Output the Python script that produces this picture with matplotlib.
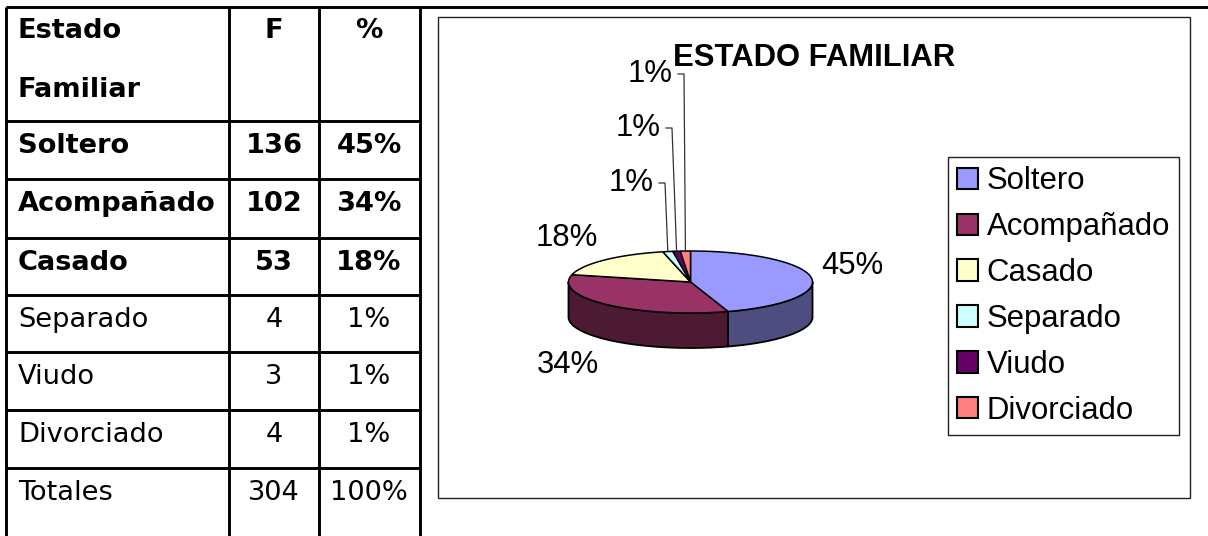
import numpy as np
import matplotlib
matplotlib.use("Agg")
import matplotlib.pyplot as plt
from matplotlib.patches import Polygon, Rectangle, Patch

# ---------------- data ----------------
categories = ["Soltero", "Acompañado", "Casado", "Separado", "Viudo", "Divorciado"]
frequencies = [136, 102, 53, 4, 3, 4]
percent_text = ["45%", "34%", "18%", "1%", "1%", "1%"]
total_f = 304
total_pct = "100%"
bold_rows = [True, True, True, False, False, False]
colors = ["#9999FF", "#993366", "#FFFFCC", "#CCFFFF", "#660066", "#FF8080"]
title = "ESTADO FAMILIAR"

W, H = 1208, 536
fig = plt.figure(figsize=(W / 100, H / 100), dpi=100)
ax = fig.add_axes([0, 0, 1, 1])
ax.set_xlim(0, W)
ax.set_ylim(H, 0)
ax.axis("off")

TFONT = "DejaVu Sans"
CFONT = "Liberation Sans"

# ---------------- table ----------------
lw_t = 2.1
ax.plot([6, W], [7, 7], color="black", lw=lw_t, solid_capstyle="butt")
col_x = [6, 229, 319, 420]
for x in col_x:
    ax.plot([x, x], [7, H], color="black", lw=lw_t, solid_capstyle="butt")
row_tops = [121, 179, 238, 295, 352, 410, 468]
for y in row_tops:
    ax.plot([6, 420], [y, y], color="black", lw=lw_t, solid_capstyle="butt")

fs_t = 19.6
c1x, c2x, c3x = 18, 274, 369
ax.text(c1x, 38, "Estado", fontsize=fs_t, fontweight="bold", family=TFONT, va="baseline")
ax.text(c1x, 97, "Familiar", fontsize=fs_t, fontweight="bold", family=TFONT, va="baseline")
ax.text(c2x, 38, "F", fontsize=fs_t, fontweight="bold", family=TFONT, va="baseline", ha="center")
ax.text(c3x, 38, "%", fontsize=fs_t, fontweight="bold", family=TFONT, va="baseline", ha="center")

rows = list(zip(categories, frequencies, percent_text, bold_rows)) + [("Totales", total_f, total_pct, False)]
for top, (name, f, p, b) in zip(row_tops, rows):
    wt = "bold" if b else "normal"
    yb = top + 32
    ax.text(c1x, yb, name, fontsize=fs_t, fontweight=wt, family=TFONT, va="baseline")
    ax.text(c2x, yb, str(f), fontsize=fs_t, fontweight=wt, family=TFONT, va="baseline", ha="center")
    ax.text(c3x, yb, p, fontsize=fs_t, fontweight=wt, family=TFONT, va="baseline", ha="center")

# ---------------- chart box ----------------
ax.add_patch(Rectangle((438, 17), 1190 - 438, 498 - 17, fill=False, edgecolor="#222222", lw=1.0))
ax.text(814, 58, title, fontsize=22.3, fontweight="bold", family=CFONT, ha="center", va="center")

# ---------------- 3D pie ----------------
cx, cy, rx, ry, depth = 690.5, 282.0, 122.0, 31.0, 35.0
vals = np.array(frequencies, dtype=float)
frac = vals / vals.sum()
edges = 90.0 - 360.0 * np.concatenate([[0.0], np.cumsum(frac)])


def pt(t, dz=0.0):
    r = np.radians(t)
    return cx + rx * np.cos(r), cy - ry * np.sin(r) + dz


def darker(hexc, f=0.5):
    c = np.array(matplotlib.colors.to_rgb(hexc)) * f
    return c

# side walls (front half: angles between -180 and 0)
for i in range(len(vals)):
    a0, a1 = edges[i], edges[i + 1]
    hi, lo = min(a0, 0.0), max(a1, -180.0)
    if hi <= lo:
        continue
    ts = np.linspace(hi, lo, 80)
    top = [pt(t) for t in ts]
    bot = [pt(t, depth) for t in ts[::-1]]
    ax.add_patch(Polygon(top + bot, closed=True, facecolor=darker(colors[i]),
                         edgecolor="black", lw=1.3, joinstyle="round"))

# top faces
for i in range(len(vals)):
    a0, a1 = edges[i], edges[i + 1]
    ts = np.linspace(a0, a1, 120)
    poly = [(cx, cy)] + [pt(t) for t in ts]
    ax.add_patch(Polygon(poly, closed=True, facecolor=colors[i],
                         edgecolor="black", lw=1.1, joinstyle="round"))

# labels
fs_c = 22.4
label_xy = [(852, 266), (568, 365), (567, 238), (631, 183), (638, 128), (650, 74)]
for i, (lx, ly) in enumerate(label_xy):
    ax.text(lx, ly, percent_text[i], fontsize=fs_c, family=CFONT, ha="center", va="center")
    if frac[i] < 0.02:
        mid = (edges[i] + edges[i + 1]) / 2
        px, py = pt(mid)
        x0 = lx + 28
        ax.plot([x0, x0 + 6, px], [ly, ly, py - 1], color="#333333", lw=0.9)

# legend
handles = [Patch(facecolor=c, edgecolor="black", lw=1.5) for c in colors]
leg = fig.legend(handles, categories, loc="upper left",
                 bbox_to_anchor=(948 / W, 1 - 157 / H), borderaxespad=0,
                 prop={"family": CFONT, "size": fs_c},
                 handlelength=0.68, handleheight=0.68, handletextpad=0.26,
                 borderpad=0.3, labelspacing=0.51, fancybox=False,
                 edgecolor="#222222", framealpha=1)
leg.get_frame().set_linewidth(1.0)

fig.savefig("out.png", dpi=100)
